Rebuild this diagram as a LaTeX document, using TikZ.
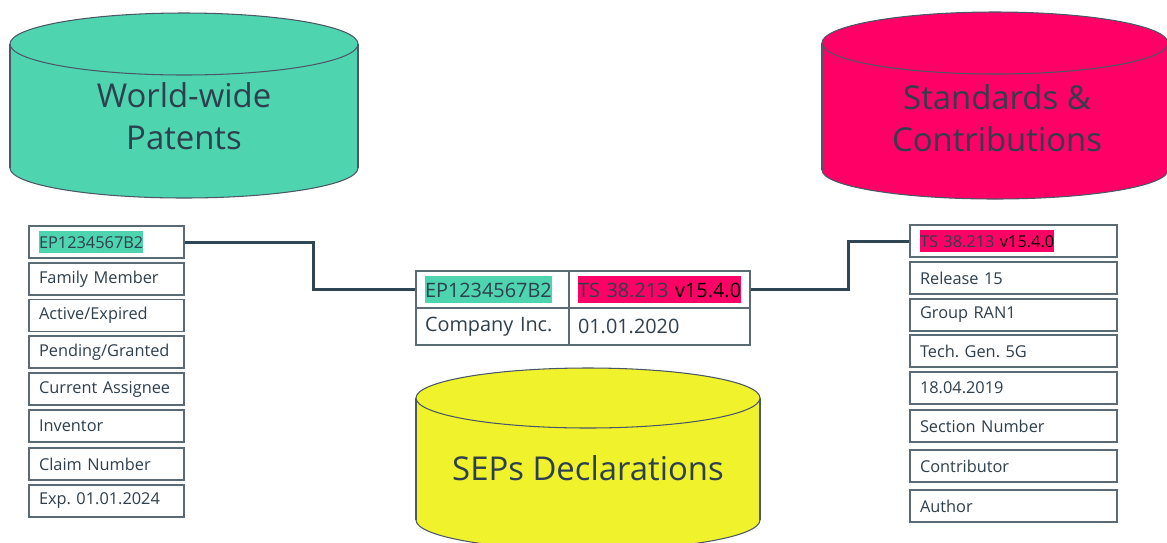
\documentclass[tikz,border=0pt]{standalone}
\usepackage{fontspec}
\setmainfont{Open Sans}
\definecolor{patentc}{HTML}{4ED5B0}
\definecolor{standc}{HTML}{FF0066}
\definecolor{sepc}{HTML}{F0F22C}
\definecolor{ink}{HTML}{2E3F4D}
\definecolor{boxline}{HTML}{5A6B76}
\definecolor{linkc}{HTML}{2F4654}
\definecolor{rim}{HTML}{4A5866}
\newcommand\hilite[2]{{\setlength{\fboxsep}{0pt}\colorbox{#1}{\rule[-0.3em]{0pt}{1.36em}#2}}}
\frenchspacing
\begin{document}
\begin{tikzpicture}[x=0.02cm, y=-0.02cm,
    rimline/.style={draw=rim, line width=0.6pt},
    field/.style={draw=boxline, line width=0.8pt, fill=white, text=ink,
      font=\fontsize{9.3}{11}\selectfont, inner xsep=0.2cm, inner ysep=0pt,
      text width=2.7cm, minimum height=0.64cm, align=left},
    sfield/.style={field, text width=3.74cm},
    cell/.style={draw=boxline, line width=0.8pt, text=ink,
      font=\fontsize{11.3}{13}\selectfont, inner xsep=0.18cm, inner ysep=0pt,
      minimum height=0.74cm, align=left},
    dbtext/.style={text=ink, font=\fontsize{18.7}{23.8}\selectfont, align=center},
    link/.style={draw=linkc, line width=1.7pt}]
      \useasboundingbox (0,0) rectangle (1167,542);
      \clip (0,0) rectangle (1167,542);

      \fill[patentc] (184,168) ellipse [x radius=174, y radius=30];
      \draw[rimline] (184,168) ellipse [x radius=174, y radius=30];
      \fill[patentc] (10,44) rectangle (358,168);
      \draw[rimline] (10,44) -- (10,168) (358,44) -- (358,168);
      \filldraw[fill=patentc, rimline] (184,44) ellipse [x radius=174, y radius=31];
      \node[dbtext] (patents) at (184,116) {World-wide\\Patents};

      \fill[standc] (995,170) ellipse [x radius=173, y radius=29];
      \draw[rimline] (995,170) ellipse [x radius=173, y radius=29];
      \fill[standc] (822,43) rectangle (1168,170);
      \draw[rimline] (822,43) -- (822,170) (1168,43) -- (1168,170);
      \filldraw[fill=standc, rimline] (995,43) ellipse [x radius=173, y radius=31];
      \node[dbtext] (standards) at (997,118) {Standards \&\\Contributions};

      \fill[sepc] (588,520) ellipse [x radius=172, y radius=30];
      \draw[rimline] (588,520) ellipse [x radius=172, y radius=30];
      \fill[sepc] (416,398) rectangle (760,520);
      \draw[rimline] (416,398) -- (416,520) (760,398) -- (760,520);
      \filldraw[fill=sepc, rimline] (588,398) ellipse [x radius=172, y radius=30];
      \node[dbtext] (seps) at (588,468) {SEPs Declarations};

      \node[field] (p1) at (106.5,242) {\hilite{patentc}{EP1234567B2}};
      \node[field] (p2) at (106.5,279) {Family Member};
      \node[field] (p3) at (106.5,315.5) {Active/Expired};
      \node[field] (p4) at (106.5,352) {Pending/Granted};
      \node[field] (p5) at (106.5,389) {Current Assignee};
      \node[field] (p6) at (106.5,426) {Inventor};
      \node[field] (p7) at (106.5,464) {Claim Number};
      \node[field] (p8) at (106.5,501) {Exp. 01.01.2024};

      \node[sfield] (s1) at (1013.5,241) {\hilite{standc}{TS 38.213 \textcolor{black}{v15.4.0}}};
      \node[sfield] (s2) at (1013.5,278) {Release 15};
      \node[sfield] (s3) at (1013.5,315) {Group RAN1};
      \node[sfield] (s4) at (1013.5,351) {Tech. Gen. 5G};
      \node[sfield] (s5) at (1013.5,388) {18.04.2019};
      \node[sfield] (s6) at (1013.5,426) {Section Number};
      \node[sfield] (s7) at (1013.5,466) {Contributor};
      \node[sfield] (s8) at (1013.5,506) {Author};

      \node[cell, text width=2.7cm] (m11) at (492.5,289.5) {\hilite{patentc}{EP1234567B2}};
      \node[cell, text width=3.26cm] (m12) at (659.5,289.5) {\hilite{standc}{TS 38.213 \textcolor{black}{v15.4.0}}};
      \node[cell, text width=2.7cm] (m21) at (492.5,326.5) {Company Inc.};
      \node[cell, text width=3.26cm] (m22) at (659.5,326.5) {01.01.2020};

      \draw[link] (p1.east) -- ++(129,0) |- (m11.west);
      \draw[link] (m12.east) -- ++(98,0) |- (s1.west);
    \end{tikzpicture}
\end{document}
